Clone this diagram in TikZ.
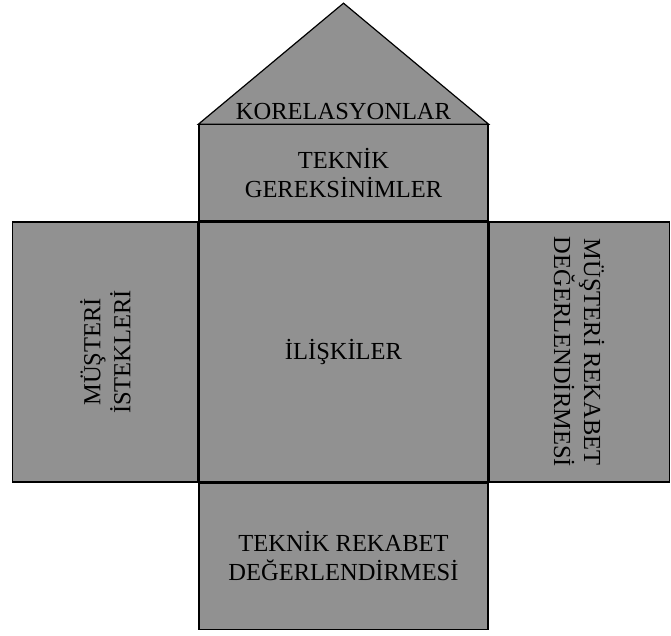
\documentclass[tikz,border=0pt]{standalone}
\usepackage{fontspec}
\setmainfont{Liberation Serif}
\usetikzlibrary{positioning, calc}
\definecolor{evgri}{RGB}{145,145,145}

\begin{document}
\begin{tikzpicture}[x=1pt, y=1pt,
    kutu/.style={draw, line width=1.2pt, fill=evgri, inner sep=0pt, font=\fontsize{24.5}{29}\selectfont, align=center},
    yazi/.style={font=\fontsize{24.5}{30}\selectfont, align=center, inner sep=0pt}]
        \useasboundingbox (0,0) rectangle (671,635);
        %orta: iliskiler
        \node[kutu, minimum width=289, minimum height=260] (iliskiler) at (343.5,283) {İLİŞKİLER};
        %ust: teknik gereksinimler
        \node[kutu, minimum width=289, minimum height=96, above=0pt of iliskiler] (teknik) {TEKNİK\\GEREKSİNİMLER};
        %sol ve sag
        \node[kutu, minimum width=185, minimum height=260, left=0pt of iliskiler] (sol) {};
        \node[kutu, minimum width=180, minimum height=260, right=0pt of iliskiler] (sag) {};
        %alt
        \node[kutu, minimum width=289, minimum height=146, below=0pt of iliskiler] (alt) {TEKNİK REKABET\\DEĞERLENDİRMESİ};
        %cati
        \coordinate (tepe) at ($(teknik.north)+(0,121)$);
        \draw[kutu] (teknik.north west) -- (tepe) -- (teknik.north east) -- cycle;
        \node[yazi] (korelasyon) at ($(teknik.north)+(0,13)$) {KORELASYONLAR};
        %dikey yazilar
        \node[yazi, rotate=90] (istekler) at (sol) {MÜŞTERİ\\İSTEKLERİ};
        \node[yazi, rotate=-90] (rekabet) at (sag) {MÜŞTERİ REKABET\\DEĞERLENDİRMESİ};
\end{tikzpicture}
\end{document}
